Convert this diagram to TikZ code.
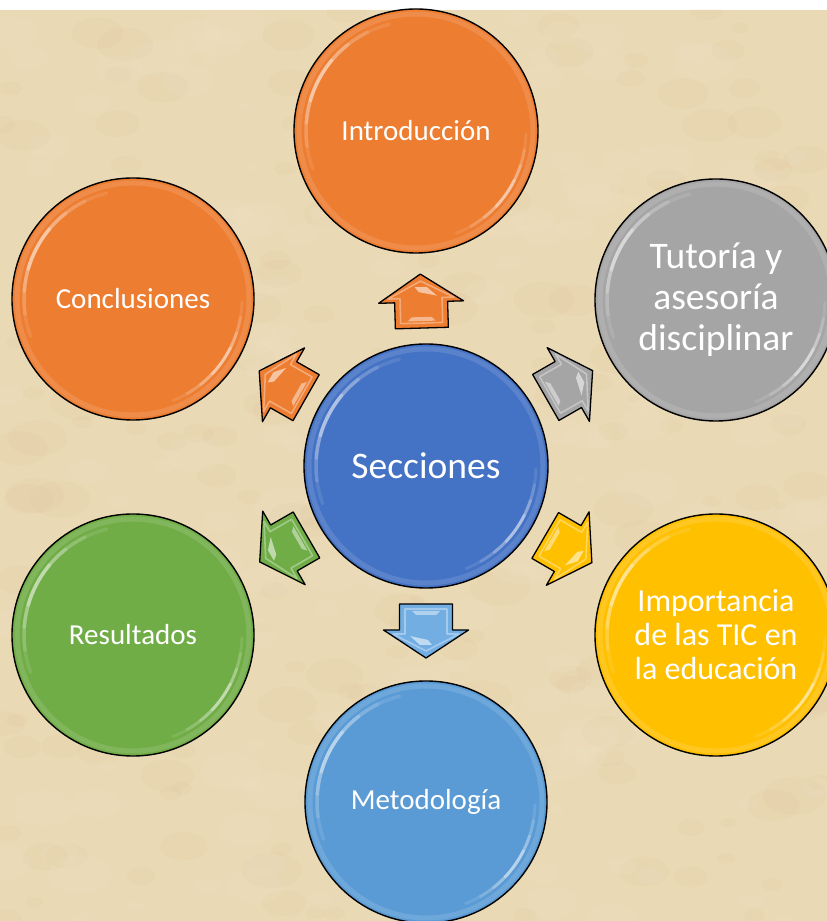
\documentclass[tikz,border=0pt]{standalone}
\usepackage{fontspec}
\setmainfont{Carlito}
\usetikzlibrary{calc}
\definecolor{bg}{HTML}{EAD9B5}
\definecolor{bglight}{HTML}{F4EAD2}
\definecolor{bgdark}{HTML}{D8C196}
\definecolor{corange}{HTML}{ED7D31}
\definecolor{cgrey}{HTML}{A5A5A5}
\definecolor{cyellow}{HTML}{FFC000}
\definecolor{cblue}{HTML}{4472C4}
\definecolor{clblue}{HTML}{5B9BD5}
\definecolor{carrblue}{HTML}{72AEE2}
\definecolor{cgreen}{HTML}{70AD47}
\newcommand\glossy[2]{%
  \foreach \s/\o in {48/0.10,36/0.14,24/0.2,12/0.3}{
    \draw[white, opacity=\o, line width=3.5pt, line cap=round]
      (#1.center) ++(152-\s:#2) arc[start angle=152-\s, end angle=152+\s, radius=#2];
    \draw[white, opacity=\o, line width=3pt, line cap=round]
      (#1.center) ++(-35-0.7*\s:#2) arc[start angle=-35-0.7*\s, end angle=-35+0.7*\s, radius=#2];
  }
  \draw[white, opacity=0.12, line width=5pt] (#1.center) circle[radius=#2+7];
}
\tikzset{
  pics/barrow/.style={code={
    \path[pic actions, draw=black, line width=1.3pt, line join=round]
      (-27,-26.5) -- (-1,-26.5) -- (-1,-42.5) -- (27,0) -- (-1,42.5) -- (-1,26.5) -- (-27,26.5) -- cycle;
    \draw[white, opacity=0.35, line width=1.6pt, line join=round]
      (-22,-21) -- (3,-21) -- (3,-33) -- (20,0) -- (3,33) -- (3,21) -- (-22,21) -- cycle;
    \fill[white, opacity=0.55] (5,-16) -- (14,-6) -- (14,6) -- (9,2) -- cycle;
    \fill[white, opacity=0.45] (-20,14) -- (-16,10) -- (-16,-10) -- (-20,-14) -- cycle;
  }}
}
\begin{document}
\begin{tikzpicture}[x=1pt,y=1pt,
  ball/.style={circle, draw=black, line width=1.4pt, minimum size=#1, inner sep=0pt,
    text=white, align=center},
  lab/.style={font=\fontsize{29}{35}\selectfont}
]
\useasboundingbox (0,0) rectangle (827,921);
\fill[white] (0,0) rectangle (827,921);
\fill[bg] (0,0) rectangle (827,911);
\begin{scope}
  \clip (0,0) rectangle (827,911);
  \pgfmathsetseed{11}
  \foreach \i in {1,...,420}{
    \pgfmathsetmacro\xx{rnd*827}
    \pgfmathsetmacro\yy{rnd*911}
    \pgfmathsetmacro\rr{6+rnd*26}
    \pgfmathsetmacro\cc{rnd}
    \ifdim\cc pt>0.5pt \def\col{bglight}\else\def\col{bgdark}\fi
    \fill[\col, opacity=0.11] (\xx,\yy) ellipse[x radius=\rr, y radius=0.6*\rr];
  }
\end{scope}

% circles
\node[ball=244pt, fill=cblue, font=\fontsize{37.5}{42}\selectfont] (sec) at (426,455) {Secciones};
\node[ball=244pt, fill=corange, lab] (intro) at (416,790) {Introducción};
\node[ball=242pt, fill=cgrey, font=\fontsize{37.5}{41}\selectfont] (tut) at (716,621) {Tutoría y\\asesoría\\disciplinar};
\node[ball=242pt, fill=cyellow, font=\fontsize{32}{34}\selectfont] (imp) at (716,286) {Importancia\\de las TIC en\\la educación};
\node[ball=242pt, fill=clblue, lab] (met) at (426,119) {Metodología};
\node[ball=242pt, fill=cgreen, lab] (res) at (133,286) {Resultados};
\node[ball=242pt, fill=corange, lab] (con) at (133,622) {Conclusiones};

\glossy{sec}{110}
\glossy{intro}{110}
\glossy{tut}{109}
\glossy{imp}{109}
\glossy{met}{109}
\glossy{res}{109}
\glossy{con}{109}

% block arrows from Secciones towards each section
\pic[fill=corange, rotate=91.7] (a1) at ($(sec.center)!165pt!(intro.center)$) {barrow};
\pic[fill=cgrey, rotate=29.8] (a2) at ($(sec.center)!165pt!(tut.center)$) {barrow};
\pic[fill=cyellow, rotate=-30.2] (a3) at ($(sec.center)!165pt!(imp.center)$) {barrow};
\pic[fill=carrblue, rotate=-90] (a4) at ($(sec.center)!165pt!(met.center)$) {barrow};
\pic[fill=cgreen, rotate=-150] (a5) at ($(sec.center)!165pt!(res.center)$) {barrow};
\pic[fill=corange, rotate=150.3] (a6) at ($(sec.center)!165pt!(con.center)$) {barrow};
\end{tikzpicture}
\end{document}
